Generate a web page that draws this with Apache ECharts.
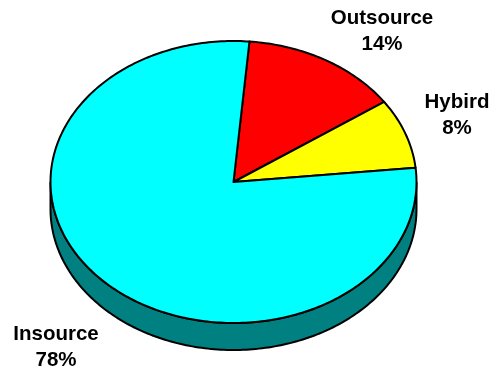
<!DOCTYPE html>
<html><head><meta charset="utf-8">
<style>html,body{margin:0;padding:0;background:#fff}#c{width:491px;height:369px}</style>
<script src="https://cdn.jsdelivr.net/npm/echarts@6/dist/echarts.min.js"></script>
</head><body><div id="c"></div>
<script>
const categories = ['Outsource', 'Hybird', 'Insource'];
const percents = [14, 8, 78];
const colors = ['#ff0000', '#ffff00', '#00ffff'];
const wallColor = '#008080';
const startDeg = 5;
const cx = 233.5, cy = 182, rx = 183, ry = 141, depth = 27;
const labelPos = [[382, 31], [457, 115], [56, 347]];

const chart = echarts.init(document.getElementById('c'), null, {renderer: 'canvas'});
function pt(a, dy) {
  const r = a * Math.PI / 180;
  return [cx + rx * Math.sin(r), cy + (dy || 0) - ry * Math.cos(r)];
}
function sector(a0, a1) {
  const p = [[cx, cy]];
  for (let a = a0; a < a1; a += 1) p.push(pt(a));
  p.push(pt(a1));
  return p;
}
function wall() {
  const p = [];
  for (let a = 90; a <= 270; a += 1) p.push(pt(a));
  for (let a = 270; a >= 90; a -= 1) p.push(pt(a, depth));
  return p;
}
const rows = categories.map((n, i) => {
  const before = percents.slice(0, i).reduce((s, v) => s + v, 0);
  return [before, percents[i], i];
});
chart.setOption({
  animation: false,
  backgroundColor: '#ffffff',
  xAxis: {show: false, min: 0, max: 1}, yAxis: {show: false, min: 0, max: 1},
  grid: {left: 0, right: 0, top: 0, bottom: 0},
  series: [{
    type: 'custom', coordinateSystem: 'none', silent: true, clip: false,
    data: rows,
    renderItem(params, api) {
      const i = api.value(2);
      const a0 = startDeg + api.value(0) * 3.6;
      const a1 = a0 + api.value(1) * 3.6;
      const style = {fill: colors[i], stroke: '#000', lineWidth: 2, lineJoin: 'round'};
      const children = [];
      if (i === 0) children.push({type: 'polygon', shape: {points: wall()}, style: {fill: wallColor, stroke: '#000', lineWidth: 2}});
      children.push({type: 'polygon', shape: {points: sector(a0, a1)}, style});
      children.push({type: 'text', style: {
        text: categories[i] + '\n' + percents[i] + '%',
        x: labelPos[i][0], y: labelPos[i][1], align: 'center', verticalAlign: 'middle',
        font: 'bold 20.5px "Liberation Sans", Arial, sans-serif', lineHeight: 26, fill: '#000'
      }});
      return {type: 'group', children};
    }
  }]
});
</script></body></html>
